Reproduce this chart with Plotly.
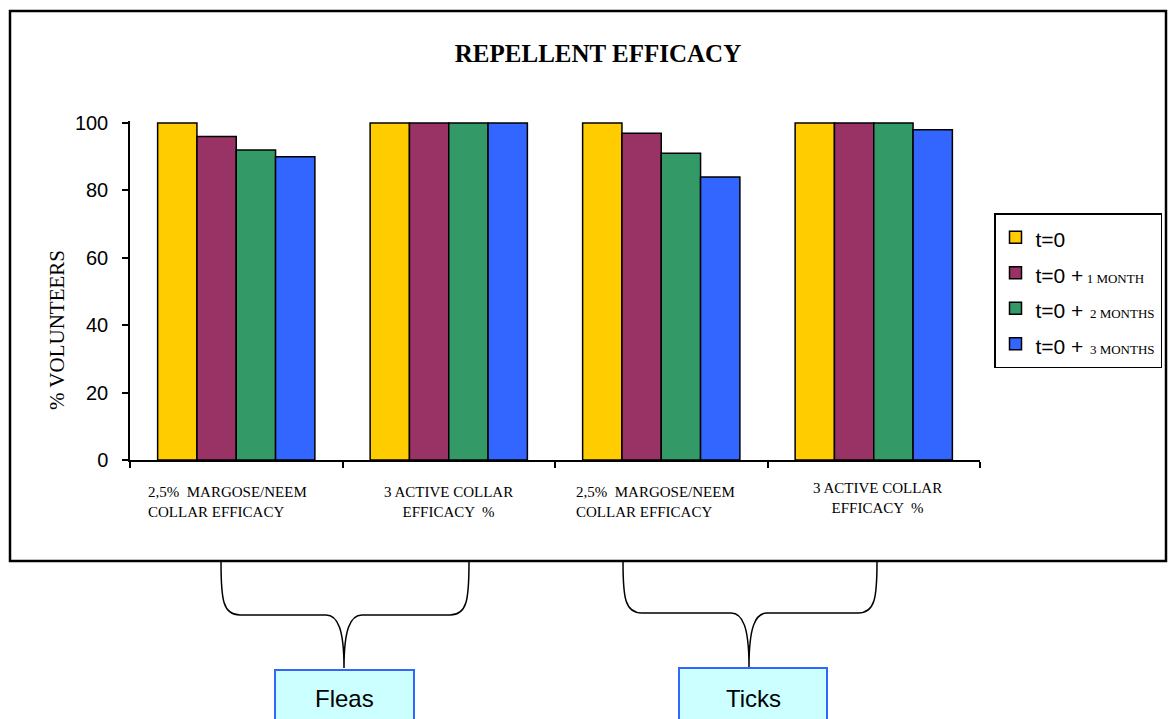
import plotly.graph_objects as go

# Repellent efficacy data (% of volunteers protected)
categories = [
    "2,5%  MARGOSE/NEEM<br>COLLAR EFFICACY",
    "3 ACTIVE COLLAR<br>EFFICACY  %",
    "2,5%  MARGOSE/NEEM<br>COLLAR EFFICACY",
    "3 ACTIVE COLLAR<br>EFFICACY  %",
]
BIG = "<span style='font-size:21px'>{}</span>"
SMALL = "<span style='font-family:Liberation Serif;font-size:13px'>{}</span>"
series_names = [
    BIG.format("t=0"),
    BIG.format("t=0 +") + SMALL.format(" 1 MONTH"),
    BIG.format("t=0 +") + SMALL.format("  2 MONTHS"),
    BIG.format("t=0 +") + SMALL.format("  3 MONTHS"),
]
t0 = [100, 100, 100, 100]
t1_month = [96, 100, 97, 100]
t2_months = [92, 100, 91, 100]
t3_months = [90, 100, 84, 98]
series_values = [t0, t1_month, t2_months, t3_months]
colors = ["#FFCC00", "#993366", "#339966", "#3366FF"]
group_labels = ["Fleas", "Ticks"]

W, H = 1174, 719
ML, MR, MT, MB = 130, 194, 121, 259
PW = W - ML - MR
PH = H - MT - MB


def px(x):
    return (x - ML) / PW


def py(y):
    return (H - MB - y) / PH


fig = go.Figure()
xpos = list(range(len(categories)))
for name, vals, col in zip(series_names, series_values, colors):
    fig.add_trace(go.Bar(
        x=xpos, y=vals, name=name,
        marker=dict(color=col, line=dict(color="black", width=1.5)),
    ))

shapes = []
# outer frame around the chart
shapes.append(dict(type="rect", xref="paper", yref="paper",
                   x0=px(10), x1=px(1166), y0=py(561), y1=py(11),
                   line=dict(color="black", width=2.5), layer="below"))


def brace(xl, xr, xm, ytop, ymid, ytip):
    return (f"M {px(xl)},{py(ytop)} C {px(xl)},{py(ymid-15)} {px(xl+2)},{py(ymid)} {px(xl+19)},{py(ymid)} "
            f"L {px(xm-18)},{py(ymid)} C {px(xm-6)},{py(ymid)} {px(xm)},{py(ymid+15)} {px(xm)},{py(ytip)} "
            f"M {px(xr)},{py(ytop)} C {px(xr)},{py(ymid-15)} {px(xr-2)},{py(ymid)} {px(xr-19)},{py(ymid)} "
            f"L {px(xm+18)},{py(ymid)} C {px(xm+6)},{py(ymid)} {px(xm)},{py(ymid+15)} {px(xm)},{py(ytip)}")


brace_specs = [(221, 469, 344, 615, 668, 275, 414, 670),
               (623, 877, 749, 613, 667, 679, 827, 668)]
annotations = []
for (xl, xr, xm, ymid, ytip, bx0, bx1, by0), lab in zip(brace_specs, group_labels):
    shapes.append(dict(type="path", xref="paper", yref="paper",
                       path=brace(xl, xr, xm, 562, ymid, ytip),
                       line=dict(color="black", width=1.5)))
    shapes.append(dict(type="rect", xref="paper", yref="paper",
                       x0=px(bx0), x1=px(bx1), y0=py(730), y1=py(by0),
                       fillcolor="#CCFFFF", line=dict(color="#3366FF", width=2)))
    annotations.append(dict(xref="paper", yref="paper", x=px((bx0 + bx1) / 2), y=py(698),
                            text=lab, showarrow=False, xanchor="center", yanchor="middle",
                            font=dict(family="Liberation Sans", size=24, color="black")))

# category labels under the x axis
label_shift = [-9, 0, -6, 4]
label_top = [482, 482, 482, 478]
label_align = ["left", "center", "left", "center"]
for i, (cat, sh, top, al) in enumerate(zip(categories, label_shift, label_top, label_align)):
    annotations.append(dict(xref="x", yref="paper", x=i, y=py(top), xshift=sh,
                            text=cat, showarrow=False, xanchor="center", yanchor="top",
                            align=al,
                            font=dict(family="Liberation Serif", size=15, color="black")))

annotations.append(dict(xref="paper", yref="paper", x=px(57), y=py(330),
                        text="% VOLUNTEERS", textangle=-90, showarrow=False,
                        xanchor="center", yanchor="middle",
                        font=dict(family="Liberation Serif", size=21, color="black")))

fig.update_layout(
    width=W, height=H,
    margin=dict(l=ML, r=MR, t=MT, b=MB, pad=0, autoexpand=False),
    paper_bgcolor="white", plot_bgcolor="white",
    barmode="group", bargap=0.26, bargroupgap=0,
    title=dict(text="<b>REPELLENT EFFICACY</b>", xref="paper", x=px(598),
               yref="container", y=1 - 53 / H, xanchor="center", yanchor="middle",
               font=dict(family="Liberation Serif", size=25, color="black")),
    xaxis=dict(range=[-0.5, 3.5], tickvals=[-0.5, 0.5, 1.5, 2.5, 3.5],
               ticktext=["", "", "", "", ""], ticks="outside", ticklen=6,
               tickcolor="black", tickwidth=1.5, showline=True, linecolor="black",
               linewidth=1.5, showgrid=False, zeroline=False, fixedrange=True),
    yaxis=dict(range=[0, 100.6], tickvals=[0, 20, 40, 60, 80, 100],
               ticks="outside", ticklen=6, tickcolor="black", tickwidth=1.5,
               showline=True, linecolor="black", linewidth=1.5, showgrid=False,
               zeroline=False, ticklabelstandoff=10,
               tickfont=dict(family="Liberation Sans", size=20, color="black")),
    legend=dict(x=px(994), y=py(213), xanchor="left", yanchor="top",
                bgcolor="white", bordercolor="black", borderwidth=1.5,
                font=dict(family="Liberation Sans", size=25, color="black"),
                tracegroupgap=0, itemwidth=30),
    shapes=shapes, annotations=annotations, showlegend=True,
)

fig.write_html("out.html")
